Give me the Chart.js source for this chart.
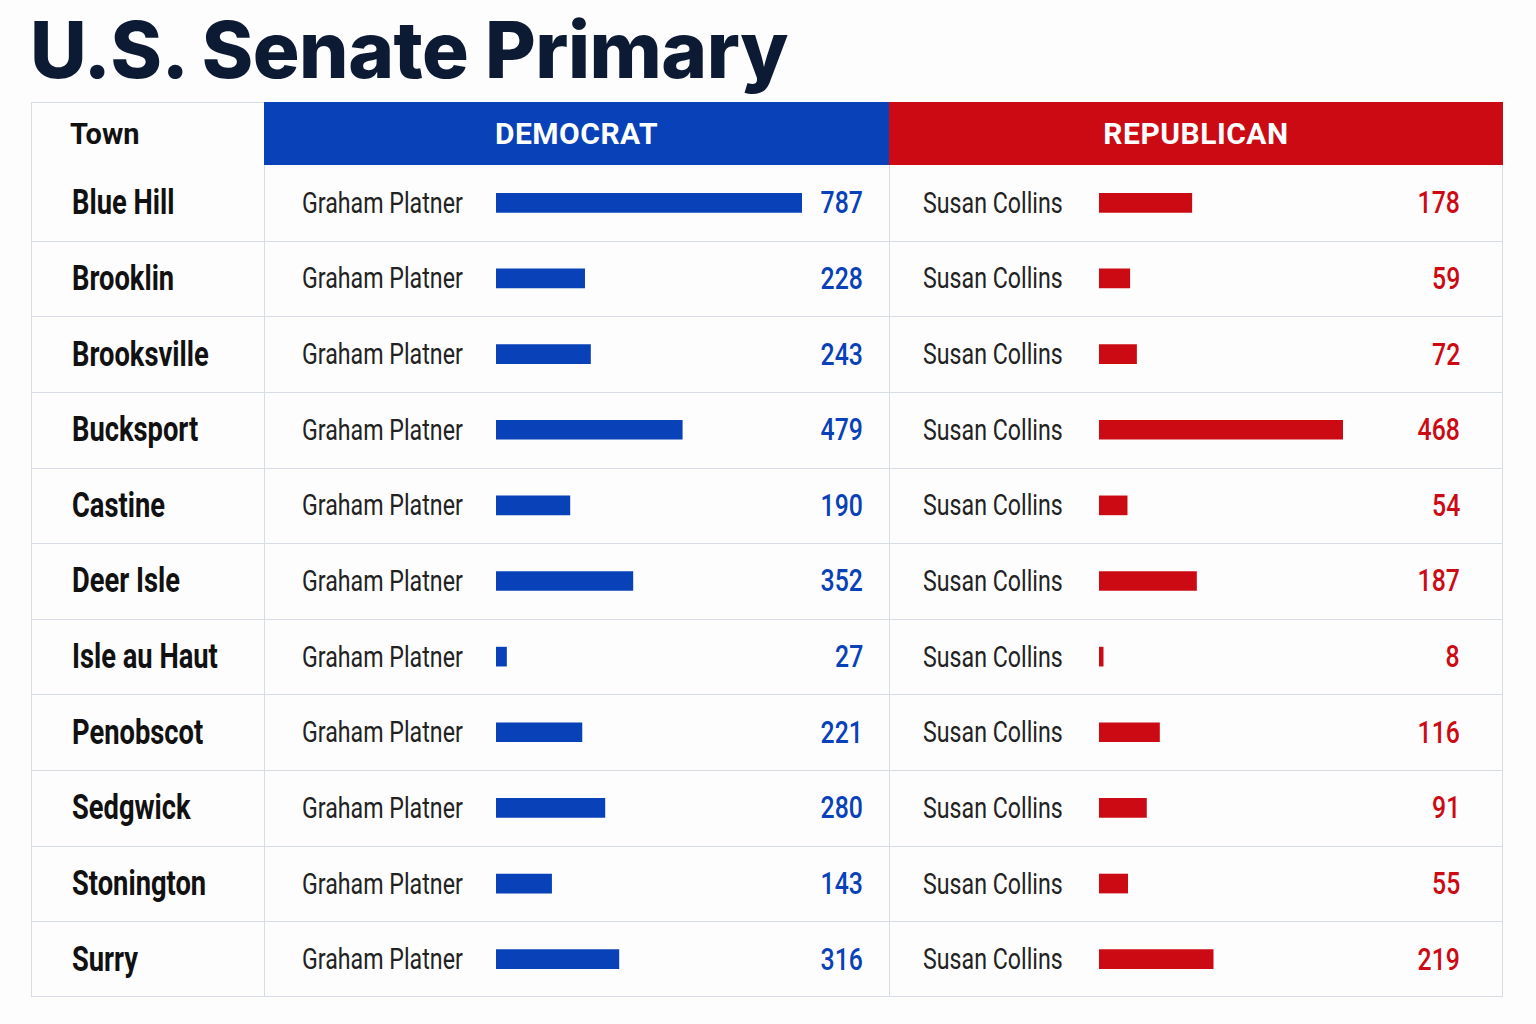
<!DOCTYPE html>
<html><head><meta charset="utf-8">
<script src="https://cdn.jsdelivr.net/npm/chart.js@4.4.1/dist/chart.umd.min.js"></script>
<style>
body{margin:0;width:1536px;height:1024px;background:#fdfdfd;position:relative;overflow:hidden;font-family:"Roboto","Noto Sans",sans-serif;}
#title{position:absolute;left:30px;top:2px;font-family:Inter,"Noto Sans",sans-serif;font-weight:800;font-size:78px;color:#0d1a33;letter-spacing:-0.5px;}
.abs{position:absolute;box-sizing:border-box;}
.hdr{top:102px;height:63px;display:flex;align-items:center;justify-content:center;color:#fff;font-family:"Roboto","Noto Sans",sans-serif;font-weight:700;font-size:30px;letter-spacing:0.5px;}
.t{position:absolute;display:flex;align-items:center;white-space:nowrap;}
.c{display:inline-block;transform:scaleX(0.8);transform-origin:left center;}
.cr{display:inline-block;transform:scaleX(0.8);transform-origin:right center;}
</style></head><body>
<div id="title">U.S. Senate Primary</div>
<div id="tbl"></div>
<div class="abs" style="left:496px;top:165px;width:306px;height:832px"><canvas id="cd"></canvas></div>
<div class="abs" style="left:1099px;top:165px;width:244px;height:832px"><canvas id="cr"></canvas></div>
<script>
const towns=["Blue Hill","Brooklin","Brooksville","Bucksport","Castine","Deer Isle","Isle au Haut","Penobscot","Sedgwick","Stonington","Surry"];
const demCandidate="Graham Platner";
const repCandidate="Susan Collins";
const demVotes=[787,228,243,479,190,352,27,221,280,143,316];
const repVotes=[178,59,72,468,54,187,8,116,91,55,219];
const BLUE="#0841b8",RED="#cc0a14";
const top0=165,bot=997,n=towns.length,rh=(bot-top0)/n;
let h='';
h+=`<div class="abs" style="left:31px;top:102px;width:1472px;height:895px;border:1px solid #d8dce3"></div>`;
h+=`<div class="abs hdr" style="left:264px;width:625px;background:${BLUE}">DEMOCRAT</div>`;
h+=`<div class="abs hdr" style="left:889px;width:614px;background:${RED}">REPUBLICAN</div>`;
h+=`<div class="t" style="left:70px;top:102px;height:63px;font-weight:700;font-size:29px;color:#111">Town</div>`;
h+=`<div class="abs" style="left:264px;top:165px;width:1px;height:832px;background:#d8dce3"></div>`;
h+=`<div class="abs" style="left:889px;top:165px;width:1px;height:832px;background:#d8dce3"></div>`;
towns.forEach((t,i)=>{const y=top0+i*rh;
 if(i>0)h+=`<div class="abs" style="left:31px;top:${y}px;width:1472px;height:1px;background:#d8dce3"></div>`;
 h+=`<div class="t" style="left:72px;top:${y}px;height:${rh}px;font-weight:700;font-size:35px;color:#111"><span class="c" style="transform:scaleX(0.78)">${t}</span></div>`;
 h+=`<div class="t" style="left:302px;top:${y}px;height:${rh}px;font-size:29px;color:#222"><span class="c">${demCandidate}</span></div>`;
 h+=`<div class="t" style="left:700px;width:163px;justify-content:flex-end;top:${y}px;height:${rh}px;font-size:31px;font-weight:500;color:${BLUE}"><span class="cr">${demVotes[i]}</span></div>`;
 h+=`<div class="t" style="left:923px;top:${y}px;height:${rh}px;font-size:29px;color:#222"><span class="c">${repCandidate}</span></div>`;
 h+=`<div class="t" style="left:1360px;width:100px;justify-content:flex-end;top:${y}px;height:${rh}px;font-size:31px;font-weight:500;color:${RED}"><span class="cr">${repVotes[i]}</span></div>`;
});
document.getElementById('tbl').innerHTML=h;
function mk(id,data,color,max){
 new Chart(document.getElementById(id),{type:'bar',
  data:{labels:towns,datasets:[{data:data,backgroundColor:color,barThickness:19,borderWidth:0}]},
  options:{indexAxis:'y',responsive:true,maintainAspectRatio:false,animation:false,
   layout:{padding:0},
   plugins:{legend:{display:false},tooltip:{enabled:false}},
   scales:{x:{display:false,min:0,max:max},y:{display:false}}}});
}
mk('cd',demVotes,BLUE,787);
mk('cr',repVotes,RED,468);
</script></body></html>
